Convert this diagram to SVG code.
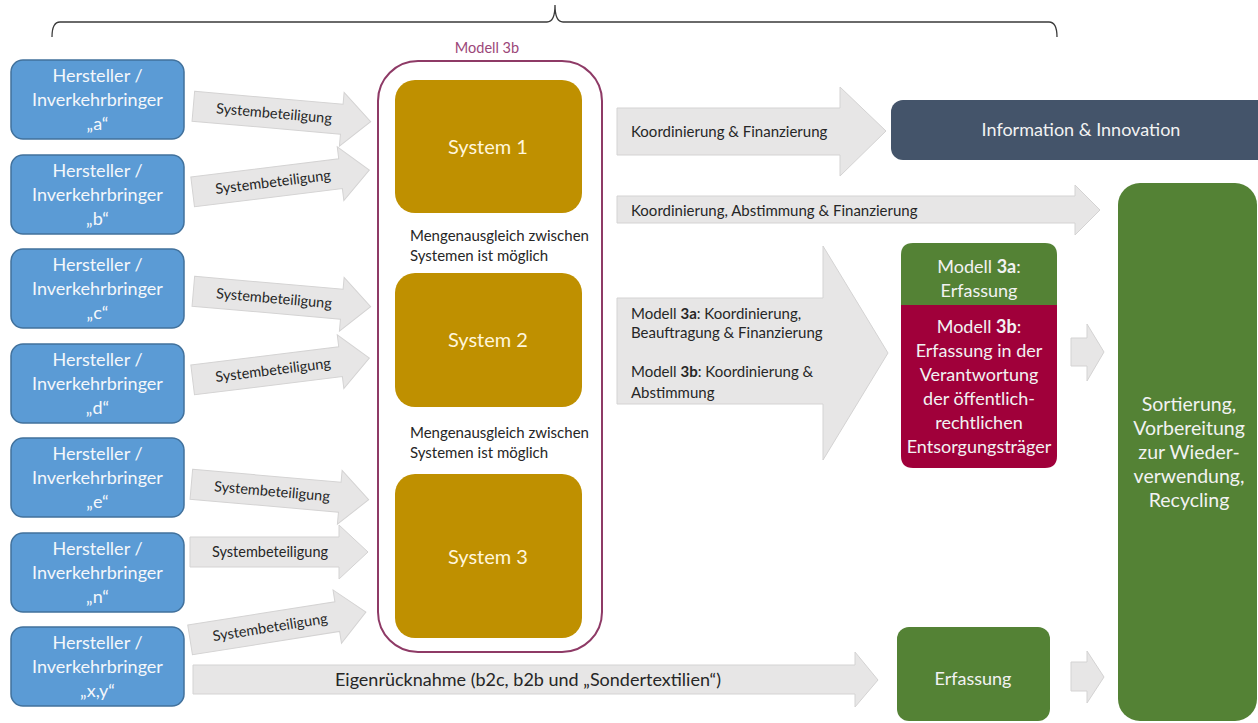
<svg xmlns="http://www.w3.org/2000/svg" xmlns:xlink="http://www.w3.org/1999/xlink" width="1258" height="723" viewBox="0 0 1258 723">
  <style>
    text { font-family: Lato, "Open Sans", "Liberation Sans", sans-serif; }
    .prod rect { fill: #5B9BD5; stroke: #41719C; stroke-width: 1.5; }
    .prod text { fill: #F4F7FB; font-size: 18px; text-anchor: middle; }
    .flow { fill: #E7E6E6; stroke: #D4D3D3; stroke-width: 1; }
    .flowtxt { fill: #262626; font-size: 15px; }
    .sbtxt { fill: #262626; font-size: 14.5px; text-anchor: middle; }
    .sys rect { fill: #BF9000; }
    .sys text { fill: #FFF6DC; font-size: 20px; text-anchor: middle; }
    .note { fill: #262626; font-size: 15px; }
    .light { fill: #F2F2F2; font-size: 18px; text-anchor: middle; }
    .big { font-size: 19.5px; }
    b, .b { font-weight: bold; }
  </style>
  <defs>
    <!-- tilted "Systembeteiligung" block arrow, centred on the origin -->
    <path id="sbArrow" class="flow" d="M-89,-15 H60 V-27 L89,0 L60,27 V15 H-89 Z"/>
  </defs>

  <!-- overall brace -->
  <path d="M52,37 Q52,22 60,22 H547 Q555,22 555,5 Q555,22 563,22 H1049 Q1057,22 1057,37" fill="none" stroke="#3A3A3A" stroke-width="1.3"/>

  <!-- producers -->
  <g id="prod-a" class="prod"><rect x="11" y="60" width="173" height="79" rx="12"/><text x="97.5" y="82">Hersteller /</text><text x="97.5" y="106">Inverkehrbringer</text><text x="97.5" y="130">„a“</text></g>
  <g id="prod-b" class="prod"><rect x="11" y="155" width="173" height="79" rx="12"/><text x="97.5" y="177">Hersteller /</text><text x="97.5" y="201">Inverkehrbringer</text><text x="97.5" y="225">„b“</text></g>
  <g id="prod-c" class="prod"><rect x="11" y="249" width="173" height="79" rx="12"/><text x="97.5" y="271">Hersteller /</text><text x="97.5" y="295">Inverkehrbringer</text><text x="97.5" y="319">„c“</text></g>
  <g id="prod-d" class="prod"><rect x="11" y="344" width="173" height="79" rx="12"/><text x="97.5" y="366">Hersteller /</text><text x="97.5" y="390">Inverkehrbringer</text><text x="97.5" y="414">„d“</text></g>
  <g id="prod-e" class="prod"><rect x="11" y="438" width="173" height="79" rx="12"/><text x="97.5" y="460">Hersteller /</text><text x="97.5" y="484">Inverkehrbringer</text><text x="97.5" y="508">„e“</text></g>
  <g id="prod-n" class="prod"><rect x="11" y="533" width="173" height="79" rx="12"/><text x="97.5" y="555">Hersteller /</text><text x="97.5" y="579">Inverkehrbringer</text><text x="97.5" y="603">„n“</text></g>
  <g id="prod-xy" class="prod"><rect x="11" y="627" width="173" height="79" rx="12"/><text x="97.5" y="649">Hersteller /</text><text x="97.5" y="673">Inverkehrbringer</text><text x="97.5" y="697">„x,y“</text></g>

  <!-- model 3b frame with the systems -->
  <g id="modell3b">
    <text x="487" y="53" fill="#9B4679" font-size="14.5" text-anchor="middle">Modell 3b</text>
    <rect x="378" y="61" width="224" height="591" rx="40" fill="none" stroke="#8E3A66" stroke-width="2"/>
    <text class="note" x="410" y="241">Mengenausgleich zwischen</text>
    <text class="note" x="410" y="261">Systemen ist möglich</text>
    <text class="note" x="410" y="438">Mengenausgleich zwischen</text>
    <text class="note" x="410" y="458">Systemen ist möglich</text>
  </g>
  <g id="system1" class="sys"><rect x="395" y="80" width="187" height="133" rx="20"/><text x="488" y="154">System 1</text></g>
  <g id="system2" class="sys"><rect x="395" y="273" width="187" height="134" rx="20"/><text x="488" y="347">System 2</text></g>
  <g id="system3" class="sys"><rect x="395" y="474" width="187" height="164" rx="20"/><text x="488" y="564">System 3</text></g>

  <!-- targets -->
  <g id="info">
    <rect x="891" y="100" width="380" height="60" rx="12" fill="#44546A"/>
    <text class="light" x="1081" y="136">Information &amp; Innovation</text>
  </g>
  <g id="erfassung-3a3b">
    <path d="M901,305 V255 Q901,243 913,243 H1045 Q1057,243 1057,255 V305 Z" fill="#548235"/>
    <path d="M901,305 H1057 V456 Q1057,468 1045,468 H913 Q901,468 901,456 Z" fill="#A0003A"/>
    <text class="light" x="979" y="273">Modell <tspan class="b">3a</tspan>:</text>
    <text class="light" x="979" y="297">Erfassung</text>
    <text class="light" x="979" y="333">Modell <tspan class="b">3b</tspan>:</text>
    <text class="light" x="979" y="357">Erfassung in der</text>
    <text class="light" x="979" y="381">Verantwortung</text>
    <text class="light" x="979" y="405">der öffentlich-</text>
    <text class="light" x="979" y="429">rechtlichen</text>
    <text class="light" x="979" y="453">Entsorgungsträger</text>
  </g>
  <g id="erfassung">
    <rect x="897" y="627" width="153" height="94" rx="12" fill="#548235"/>
    <text class="light" x="973" y="685">Erfassung</text>
  </g>
  <g id="verwertung">
    <rect x="1118" y="183" width="139" height="538" rx="22" fill="#548235"/>
    <text class="light big" x="1189" y="411">Sortierung,</text>
    <text class="light big" x="1189" y="435">Vorbereitung</text>
    <text class="light big" x="1189" y="459">zur Wieder-</text>
    <text class="light big" x="1189" y="483">verwendung,</text>
    <text class="light big" x="1189" y="507">Recycling</text>
  </g>

  <!-- connectors -->
  <g id="connectors">
    <g transform="translate(282,114) rotate(5)"><use href="#sbArrow"/><text class="sbtxt" x="-8" y="5">Systembeteiligung</text></g>
    <g transform="translate(281,181) rotate(-7)"><use href="#sbArrow"/><text class="sbtxt" x="-8" y="5">Systembeteiligung</text></g>
    <g transform="translate(282,299) rotate(5)"><use href="#sbArrow"/><text class="sbtxt" x="-8" y="5">Systembeteiligung</text></g>
    <g transform="translate(281,369) rotate(-7)"><use href="#sbArrow"/><text class="sbtxt" x="-8" y="5">Systembeteiligung</text></g>
    <g transform="translate(280,492) rotate(5)"><use href="#sbArrow"/><text class="sbtxt" x="-8" y="5">Systembeteiligung</text></g>
    <g transform="translate(279,552)"><use href="#sbArrow"/><text class="sbtxt" x="-9" y="5">Systembeteiligung</text></g>
    <g transform="translate(278,626) rotate(-9)"><use href="#sbArrow"/><text class="sbtxt" x="-8" y="5">Systembeteiligung</text></g>

    <path class="flow" d="M193,665 H855 V652 L878,680 L855,707 V694 H193 Z"/>
    <text x="528" y="686" fill="#262626" font-size="18" text-anchor="middle">Eigenrücknahme (b2c, b2b und „Sondertextilien“)</text>

    <path class="flow" d="M617,108 H840 V87 L886,131 L840,176 V155 H617 Z"/>
    <text class="flowtxt" x="631" y="137">Koordinierung &amp; Finanzierung</text>

    <path class="flow" d="M617,196 H1075 V185 L1100,210 L1075,235 V223 H617 Z"/>
    <text class="flowtxt" x="631" y="216">Koordinierung, Abstimmung &amp; Finanzierung</text>

    <path class="flow" d="M617,298 H823 V246 L888,353 L823,460 V404 H617 Z"/>
    <text class="flowtxt" x="631" y="319">Modell <tspan class="b">3a</tspan>: Koordinierung,</text>
    <text class="flowtxt" x="631" y="338">Beauftragung &amp; Finanzierung</text>
    <text class="flowtxt" x="631" y="377">Modell <tspan class="b">3b</tspan>: Koordinierung &amp;</text>
    <text class="flowtxt" x="631" y="398">Abstimmung</text>

    <path class="flow" d="M1071,338 H1087 V324 L1104,352 L1087,381 V366 H1071 Z"/>
    <path class="flow" d="M1071,662 H1087 V651 L1104,677 L1087,703 V691 H1071 Z"/>
  </g>
</svg>
